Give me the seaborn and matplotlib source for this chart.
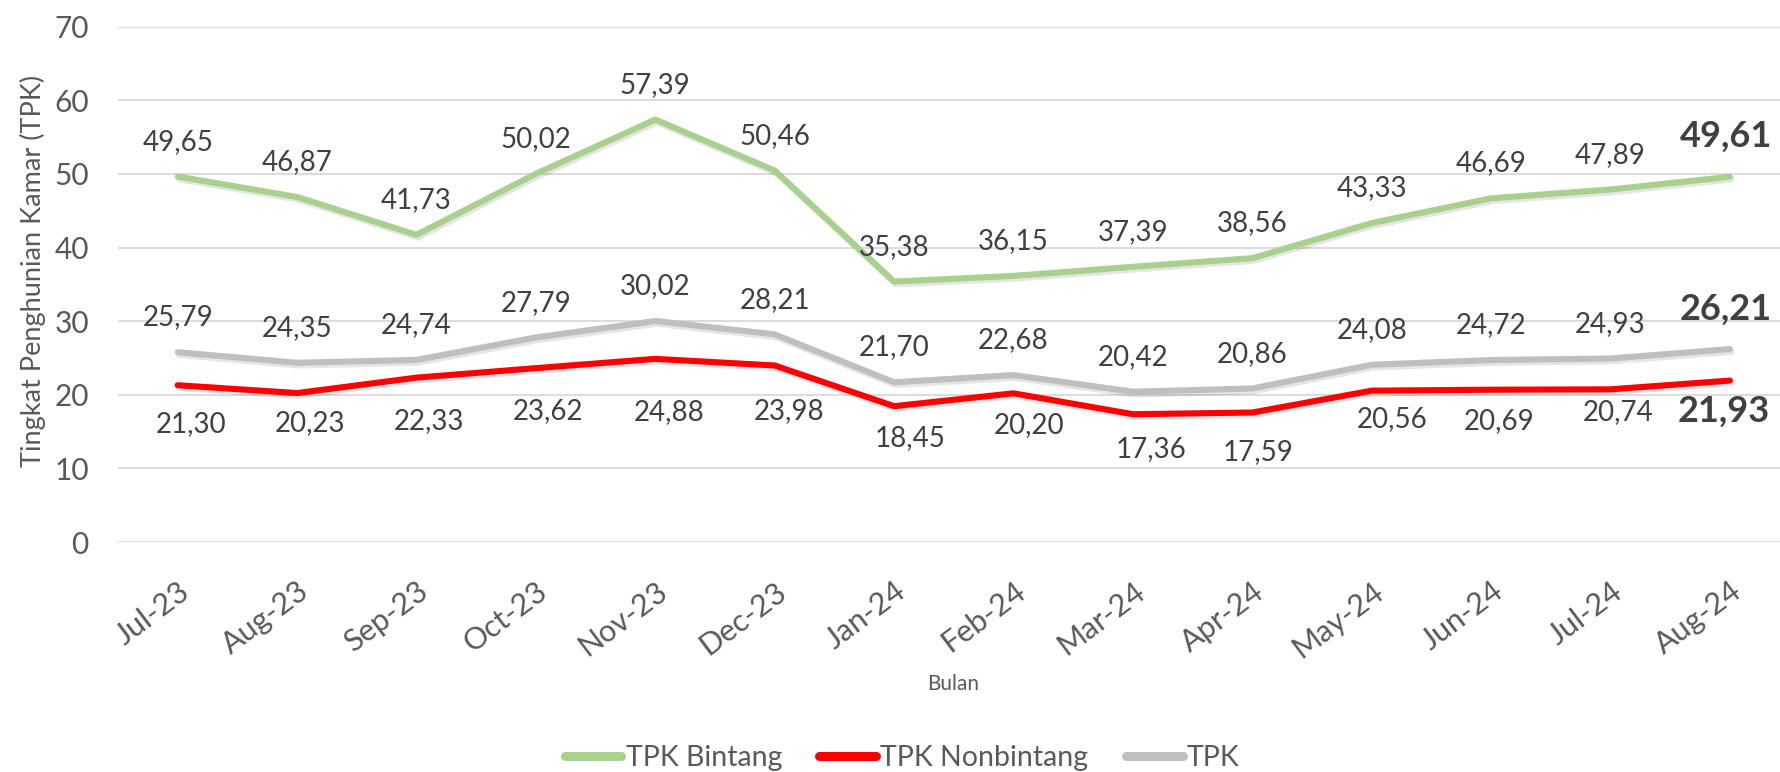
import matplotlib
matplotlib.use("Agg")
import pandas as pd
import matplotlib.pyplot as plt
import matplotlib.patheffects as pe
from matplotlib.lines import Line2D
import seaborn as sns

months = ["Jul-23", "Aug-23", "Sep-23", "Oct-23", "Nov-23", "Dec-23", "Jan-24",
          "Feb-24", "Mar-24", "Apr-24", "May-24", "Jun-24", "Jul-24", "Aug-24"]
tpk_bintang = [49.65, 46.87, 41.73, 50.02, 57.39, 50.46, 35.38,
               36.15, 37.39, 38.56, 43.33, 46.69, 47.89, 49.61]
tpk_nonbintang = [21.30, 20.23, 22.33, 23.62, 24.88, 23.98, 18.45,
                  20.20, 17.36, 17.59, 20.56, 20.69, 20.74, 21.93]
tpk = [25.79, 24.35, 24.74, 27.79, 30.02, 28.21, 21.70,
       22.68, 20.42, 20.86, 24.08, 24.72, 24.93, 26.21]
series_names = ["TPK Bintang", "TPK Nonbintang", "TPK"]
palette = {"TPK Bintang": "#A9D18E", "TPK Nonbintang": "#FF0000", "TPK": "#BFBFBF"}

# label nudges in pixels (dx, dy) - the red labels were moved by hand in the source
red_nudge = [(13, -37), (13, -28), (12, -42), (12, -41), (14, -51), (14, -44), (16, -30),
             (16, -30), (18, -33), (6, -38), (20, -27), (8, -30), (8, -21), (-6, -29)]

df = pd.DataFrame({
    "idx": list(range(len(months))) * 3,
    "series": [s for s in series_names for _ in months],
    "value": tpk_bintang + tpk_nonbintang + tpk,
})

sns.set_theme(style="white")
plt.rcParams["font.family"] = ["Lato", "DejaVu Sans"]

fig = plt.figure(figsize=(17.81, 7.72), dpi=100)
ax = fig.add_axes([118 / 1781, 0.2979, 1663 / 1781, 0.6675])

shadow = [pe.SimpleLineShadow(offset=(1, -2), shadow_color="black", alpha=0.1),
          pe.Normal()]
sns.lineplot(data=df, x="idx", y="value", hue="series", hue_order=series_names,
             palette=palette, linewidth=4.4, sort=False, legend=False, ax=ax,
             solid_capstyle="round", solid_joinstyle="round", path_effects=shadow)

ax.set_xlim(-0.5, -0.5 + 1663 / 119.4)
ax.set_ylim(0, 70)
ax.set_yticks(range(0, 71, 10))
ax.grid(axis="y", color="#D9D9D9", linewidth=1.3)
ax.set_axisbelow(True)
sns.despine(ax=ax, left=True, bottom=True)

ax.set_xticks(range(len(months)), months, rotation=37, ha="right", va="top",
              rotation_mode="anchor")
ax.tick_params(axis="x", length=0, pad=25, labelsize=22, labelcolor="#595959")
ax.tick_params(axis="y", length=0, pad=21, labelsize=21.5, labelcolor="#595959")

ax.set_ylabel("Tingkat Penghunian Kamar (TPK)", fontsize=19.5, color="#595959")
ax.yaxis.set_label_coords(-0.0433, 0.526)
ax.set_xlabel("Bulan", fontsize=15, color="#595959")
ax.xaxis.set_label_coords(0.502, -0.256)


def fmt(v):
    return f"{v:.2f}".replace(".", ",")


n = len(months)
for i in range(n):
    last = i == n - 1
    size = 26 if last else 20
    weight = "bold" if last else "normal"
    half_cap = 12.5 if last else 9.7
    up = 43 if last else 36.5
    dx = -4 if last else 0
    for vals, shift in ((tpk_bintang, up), (tpk, up - 1 if last else up)):
        ax.annotate(fmt(vals[i]), (i, vals[i]), xytext=(dx, shift - half_cap),
                    textcoords="offset pixels", ha="center", va="baseline",
                    fontsize=size, fontweight=weight, color="#404040")
    ndx, ndy = red_nudge[i]
    ax.annotate(fmt(tpk_nonbintang[i]), (i, tpk_nonbintang[i]),
                xytext=(ndx, ndy - half_cap), textcoords="offset pixels",
                ha="center", va="baseline", fontsize=size, fontweight=weight,
                color="#404040")

handles = [Line2D([], [], color=palette[s], linewidth=6.5, solid_capstyle="round")
           for s in series_names]
fig.legend(handles, series_names, loc="center", bbox_to_anchor=(0.5065, 0.018),
           ncol=3, frameon=False, fontsize=20.5, handlelength=2.0, handletextpad=0.15,
           columnspacing=1.3, borderpad=0, labelcolor="#595959")

fig.savefig("out.png", dpi=100)
